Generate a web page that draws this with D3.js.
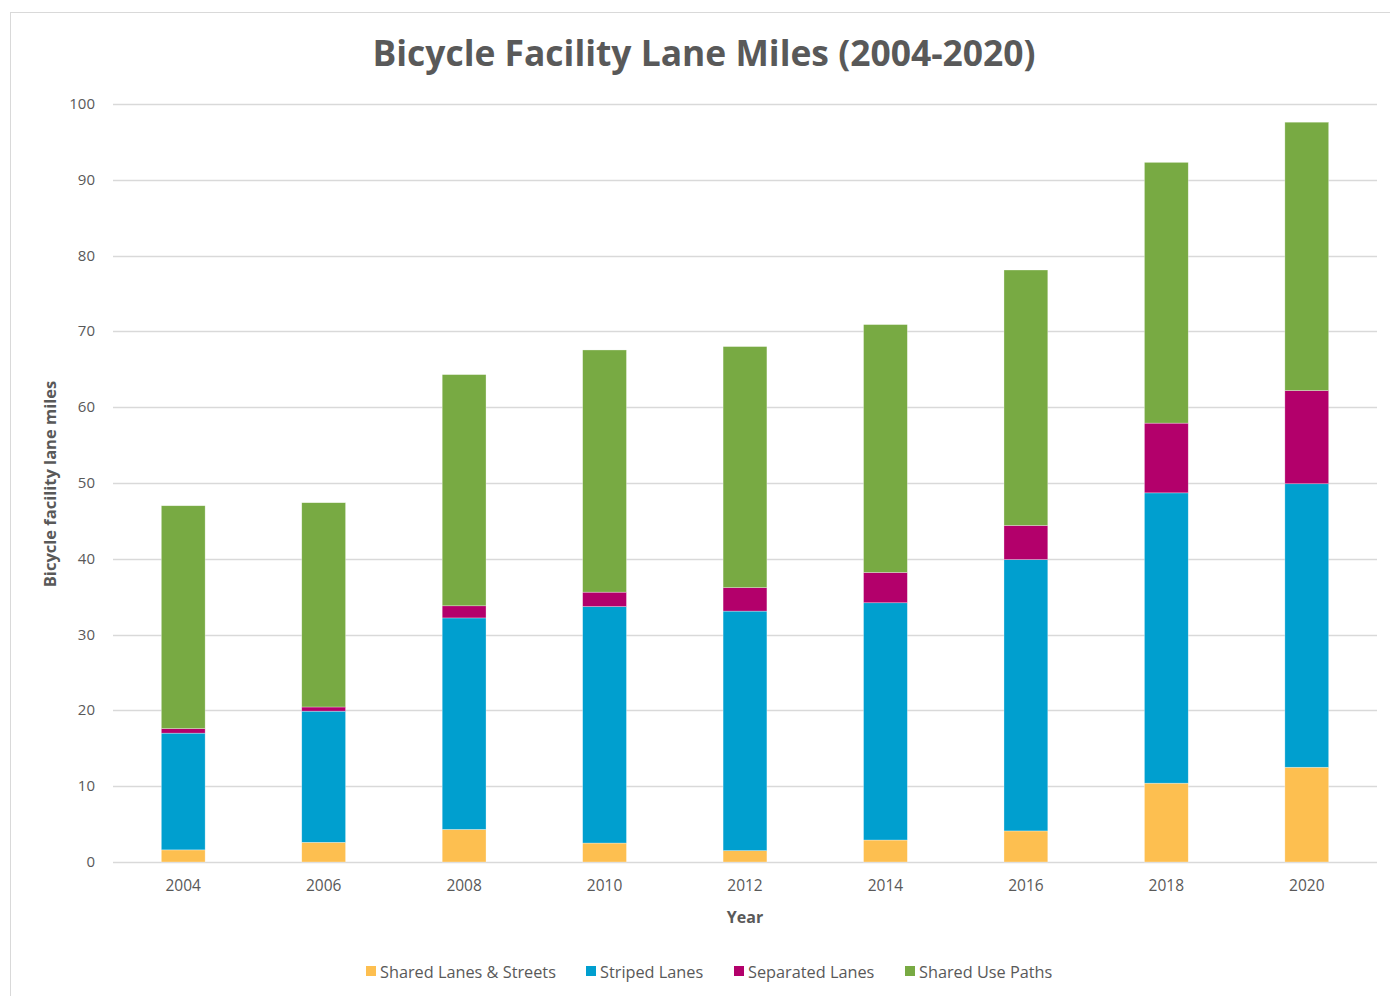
<!DOCTYPE html>
<html>
<head>
<meta charset="utf-8">
<script src="https://cdn.jsdelivr.net/npm/d3@7"></script>
<style>
  body { margin: 0; background: #fff; }
  svg { display: block; font-family: "Open Sans", "Noto Sans", sans-serif; }
</style>
</head>
<body>
<svg id="chart"></svg>
<script>
// Chart data (miles)
const years = ['2004', '2006', '2008', '2010', '2012', '2014', '2016', '2018', '2020'];
const seriesNames = ['Shared Lanes & Streets', 'Striped Lanes', 'Separated Lanes', 'Shared Use Paths'];
const sharedLanes = [1.6, 2.6, 4.3, 2.5, 1.5, 2.9, 4.1, 10.4, 12.5];
const stripedLanes = [15.4, 17.3, 27.9, 31.2, 31.6, 31.3, 35.8, 38.3, 37.4];
const separatedLanes = [0.6, 0.55, 1.6, 1.9, 3.1, 4.0, 4.5, 9.2, 12.3];
const sharedUsePaths = [29.4, 26.95, 30.5, 31.95, 31.8, 32.7, 33.7, 34.4, 35.4];
const yTicks = [0, 10, 20, 30, 40, 50, 60, 70, 80, 90, 100];

const colors = ['#fdbf50', '#009fcf', '#b3006b', '#78aa43'];

const width = 1390, height = 996;
const margin = { top: 104, right: 13, bottom: 134, left: 113 };
const innerW = width - margin.left - margin.right;
const innerH = height - margin.top - margin.bottom;

const svg = d3.select('#chart').attr('width', width).attr('height', height);

// chart frame
svg.append('rect')
    .attr('x', 10.5).attr('y', 12.5)
    .attr('width', width - 10).attr('height', height - 10)
    .attr('fill', '#fff')
    .attr('stroke', '#d9d9d9')
    .attr('stroke-width', 1);

const g = svg.append('g').attr('transform', `translate(${margin.left},${margin.top})`);

const x = d3.scaleBand().domain(years).range([0, innerW]).paddingInner(0.688).paddingOuter(0.344);
const y = d3.scaleLinear().domain([0, 100]).range([innerH, 0]);

// gridlines
g.append('g').selectAll('line')
    .data(yTicks)
    .join('line')
    .attr('x1', 0).attr('x2', innerW)
    .attr('y1', d => Math.round(y(d)) + 0.5).attr('y2', d => Math.round(y(d)) + 0.5)
    .attr('stroke', '#d9d9d9')
    .attr('stroke-width', 1.3);

// y tick labels
g.append('g').selectAll('text')
    .data(yTicks)
    .join('text')
    .attr('x', -18)
    .attr('y', d => y(d) + 5)
    .attr('text-anchor', 'end')
    .attr('fill', '#595959')
    .attr('font-size', '15px')
    .text(d => d);

// stacked bars
const table = years.map((yr, i) => ({
    year: yr,
    s0: sharedLanes[i], s1: stripedLanes[i], s2: separatedLanes[i], s3: sharedUsePaths[i]
}));
const stack = d3.stack().keys(['s0', 's1', 's2', 's3']);
const layers = stack(table);

g.append('g').selectAll('g')
    .data(layers)
    .join('g')
    .attr('fill', (d, i) => colors[i])
    .selectAll('rect')
    .data(d => d)
    .join('rect')
    .attr('x', d => x(d.data.year))
    .attr('width', x.bandwidth())
    .attr('y', d => y(d[1]))
    .attr('height', d => y(d[0]) - y(d[1]))
    .attr('stroke', '#ffffff')
    .attr('stroke-opacity', 0.5)
    .attr('stroke-width', 0.6);

// x labels
g.append('g').selectAll('text')
    .data(years)
    .join('text')
    .attr('x', d => x(d) + x.bandwidth() / 2)
    .attr('y', innerH + 29)
    .attr('text-anchor', 'middle')
    .attr('fill', '#595959')
    .attr('font-size', '15.5px')
    .text(d => d);

// axis titles
g.append('text')
    .attr('x', innerW / 2)
    .attr('y', innerH + 61)
    .attr('text-anchor', 'middle')
    .attr('fill', '#595959')
    .attr('font-size', '16px')
    .attr('font-weight', 'bold')
    .text('Year');

svg.append('text')
    .attr('transform', 'translate(56,484) rotate(-90)')
    .attr('text-anchor', 'middle')
    .attr('fill', '#595959')
    .attr('font-size', '16.5px')
    .attr('font-weight', 'bold')
    .text('Bicycle  facility  lane  miles');

// title
svg.append('text')
    .attr('x', 704)
    .attr('y', 66)
    .attr('text-anchor', 'middle')
    .attr('fill', '#595959')
    .attr('font-size', '35px')
    .attr('font-weight', 'bold')
    .attr('textLength', 663)
    .attr('lengthAdjust', 'spacingAndGlyphs')
    .text('Bicycle Facility Lane  Miles (2004-2020)');

// legend
const legendX = [366, 586, 734, 905];
const legend = svg.append('g').selectAll('g')
    .data(seriesNames)
    .join('g')
    .attr('transform', (d, i) => `translate(${legendX[i]},972)`);

legend.append('rect')
    .attr('x', 0).attr('y', -6)
    .attr('width', 10).attr('height', 10)
    .attr('fill', (d, i) => colors[i]);

legend.append('text')
    .attr('x', 14)
    .attr('y', 6)
    .attr('fill', '#595959')
    .attr('font-size', '16.3px')
    .text(d => d);
</script>
</body>
</html>
